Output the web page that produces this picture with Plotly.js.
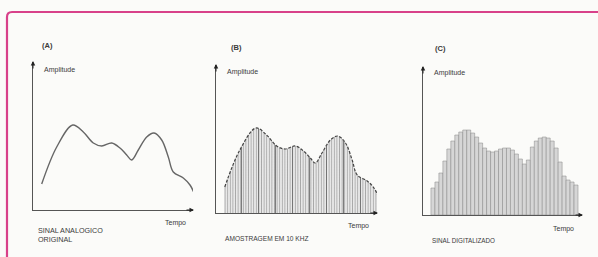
<!DOCTYPE html>
<html>
<head>
<meta charset="utf-8">
<script src="https://cdn.plot.ly/plotly-3.0.1.min.js"></script>
<style>html,body{margin:0;padding:0;background:#fbfbf9;}#chart{width:598px;height:257px;}</style>
</head>
<body>
<div id="chart"></div>
<script>
// ---- data (time in arbitrary units from the origin, amplitude 0..148) ----
const tAnalog   = [8.7, 23.7, 39.7, 50.3, 60.3, 68.7, 78.7, 87, 93.7, 98.7, 105.3, 113.7, 121, 128.7, 135.3, 140.3, 150.3, 157, 162];
const ampAnalog = [26,  63,   85,   78,   67,   64,   67,   62, 55,   50,   60,    73,    77,  70,    53,    38,    32,    25,  15];

const tDigital   = [8,12,16,20,24,28,32,36,40,44,48,52,56,60,64,68,72,76,80,84,88,92,96,100,104,108,112,116,120,124,128,132,136,140,144,148,152];
const ampDigital = [27,33,42,54,66,74,80,83,85,85,82,78,72,67,64,63,64,66,67,67,65,61,56,51,55,68,74,77,78,77,74,67,53,39,35,33,30];

const panelTitles = ['(A)', '(B)', '(C)'];
const axisYLabel = 'Amplitude';
const axisXLabel = 'Tempo';
const captions = ['SINAL ANALOGICO<br>ORIGINAL', 'AMOSTRAGEM EM 10 KHZ', 'SINAL DIGITALIZADO'];

const X_RANGE = [0, 160];
const Y_RANGE = [0, 148];

// ---- layout helpers (pixel -> paper) ----
const W = 598, H = 257;
const px = x => x / W;
const py = y => 1 - y / H;

const panels = [
  {x0: 33,  x1: 193, yb: 210, yt: 62},
  {x0: 216, x1: 377, yb: 213, yt: 65},
  {x0: 423, x1: 582, yb: 215, yt: 67}
];

const ink = '#3a3a3a';
const axisColor = '#555';

const traces = [
  {
    x: tAnalog, y: ampAnalog, xaxis: 'x', yaxis: 'y', type: 'scatter', mode: 'lines',
    line: {shape: 'spline', smoothing: 1.0, color: '#666', width: 1.4},
    hoverinfo: 'skip'
  },
  {
    x: tAnalog, y: ampAnalog, xaxis: 'x2', yaxis: 'y2', type: 'scatter', mode: 'lines',
    line: {shape: 'spline', smoothing: 1.0, color: '#444', width: 1.2, dash: '3px,1.5px'},
    fill: 'tozeroy', fillcolor: '#e4e4e4',
    fillpattern: {shape: '|', size: 2.6, solidity: 0.3, fgcolor: '#a0a0a0', bgcolor: '#e8e8e8'},
    hoverinfo: 'skip'
  },
  {
    x: tAnalog, y: ampAnalog, xaxis: 'x2', yaxis: 'y2', type: 'scatter', mode: 'lines',
    line: {shape: 'spline', smoothing: 1.0, color: 'rgba(0,0,0,0)', width: 0},
    fill: 'tozeroy', fillcolor: 'rgba(0,0,0,0)',
    fillpattern: {shape: '|', size: 17, solidity: 0.05, fgcolor: '#6a6a6a', bgcolor: 'rgba(0,0,0,0)'},
    hoverinfo: 'skip'
  },
  {
    x: tDigital, y: ampDigital, xaxis: 'x3', yaxis: 'y3', type: 'bar',
    width: 4, offset: 0,
    marker: {color: '#e4e4e4', line: {color: '#858585', width: 0.5},
      pattern: {shape: '|', size: 2, solidity: 0.25, fgcolor: '#a0a0a0', bgcolor: '#e8e8e8'}},
    hoverinfo: 'skip'
  }
];

function axis(domain, range) {
  return {domain: domain, range: range, showline: true, linecolor: axisColor, linewidth: 1,
    showgrid: false, zeroline: false, showticklabels: false, ticks: '', fixedrange: true};
}

const layout = {
  width: W, height: H,
  margin: {l: 0, r: 0, t: 0, b: 0},
  paper_bgcolor: '#fbfbf9', plot_bgcolor: 'rgba(0,0,0,0)',
  showlegend: false, bargap: 0,
  annotations: [], shapes: []
};

const suffix = ['', '2', '3'];
panels.forEach((p, i) => {
  const s = suffix[i];
  layout['xaxis' + s] = Object.assign(axis([px(p.x0), px(p.x1)], X_RANGE), {anchor: 'y' + s});
  layout['yaxis' + s] = Object.assign(axis([py(p.yb), py(p.yt)], Y_RANGE), {anchor: 'x' + s});
  layout.annotations.push({xref: 'x' + s, yref: 'y' + s, axref: 'x' + s, ayref: 'y' + s,
    x: X_RANGE[0], y: Y_RANGE[1] + 1, ax: X_RANGE[0], ay: Y_RANGE[1] - 8, text: '',
    showarrow: true, arrowhead: 2, arrowsize: 0.9, arrowwidth: 1, arrowcolor: '#222'});
  layout.annotations.push({xref: 'x' + s, yref: 'y' + s, axref: 'x' + s, ayref: 'y' + s,
    x: X_RANGE[1] + 1, y: Y_RANGE[0], ax: X_RANGE[1] - 8, ay: Y_RANGE[0], text: '',
    showarrow: true, arrowhead: 2, arrowsize: 0.9, arrowwidth: 1, arrowcolor: '#222'});
});

const textPos = [
  {title: [47, 45], amp: [42, 70], tempo: [175, 223], cap: [36, 235], capSize: 7.2},
  {title: [236, 47], amp: [225, 72], tempo: [358, 226], cap: [223, 238], capSize: 6.6},
  {title: [440, 48], amp: [432, 73], tempo: [563, 229], cap: [430, 240], capSize: 6.3}
];
textPos.forEach((t, i) => {
  layout.annotations.push({xref: 'paper', yref: 'paper', x: px(t.title[0]), y: py(t.title[1]),
    text: '<b>' + panelTitles[i] + '</b>', showarrow: false, xanchor: 'center', yanchor: 'middle',
    font: {family: 'Liberation Sans, Arial', size: 7.5, color: ink}});
  layout.annotations.push({xref: 'paper', yref: 'paper', x: px(t.amp[0]), y: py(t.amp[1]),
    text: axisYLabel, showarrow: false, xanchor: 'left', yanchor: 'middle',
    font: {family: 'Liberation Sans, Arial', size: 7, color: ink}});
  layout.annotations.push({xref: 'paper', yref: 'paper', x: px(t.tempo[0]), y: py(t.tempo[1]),
    text: axisXLabel, showarrow: false, xanchor: 'center', yanchor: 'middle',
    font: {family: 'Liberation Sans, Arial', size: 7, color: ink}});
  layout.annotations.push({xref: 'paper', yref: 'paper', x: px(t.cap[0]), y: py(t.cap[1]),
    text: captions[i], showarrow: false, xanchor: 'left', yanchor: 'middle', align: 'left',
    font: {family: 'Liberation Sans, Arial', size: t.capSize, color: ink}});
});

const f = (x, y) => px(x).toFixed(4) + ',' + py(y).toFixed(4);
layout.shapes.push({type: 'path', xref: 'paper', yref: 'paper',
  path: 'M ' + f(7, 270) + ' L ' + f(7, 17) + ' Q ' + f(7, 12) + ' ' + f(12, 12) + ' L ' + f(610, 12),
  line: {color: '#d8418a', width: 2.2}});

Plotly.newPlot('chart', traces, layout, {displayModeBar: false, staticPlot: true});
</script>
</body>
</html>
